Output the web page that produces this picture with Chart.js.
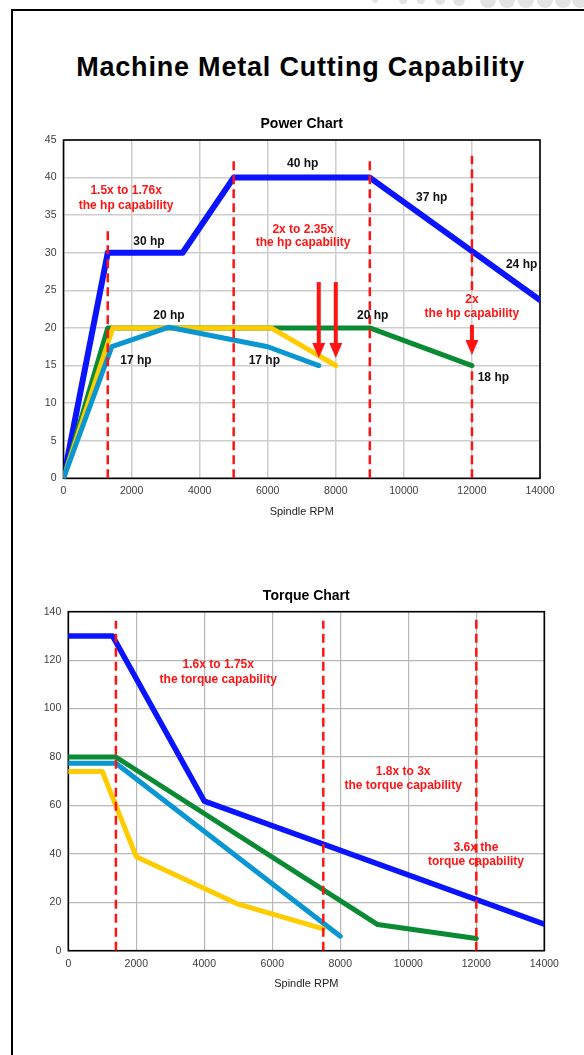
<!DOCTYPE html>
<html>
<head>
<meta charset="utf-8">
<script src="https://cdn.jsdelivr.net/npm/chart.js@4.4.1/dist/chart.umd.min.js"></script>
<style>
html,body{margin:0;padding:0;background:#fff;width:584px;height:1055px;overflow:hidden;position:relative;font-family:"Liberation Sans",Arial,sans-serif;}
#frameL{position:absolute;left:11px;top:9px;width:2px;height:1046px;background:#000;}
#frameT{position:absolute;left:11px;top:9px;width:573px;height:2px;background:#000;}
.dot{position:absolute;border-radius:50%;background:#e3e3e3;}
#title{position:absolute;left:0;top:51px;width:601px;text-align:center;font-weight:bold;font-size:27px;line-height:32px;letter-spacing:0.8px;color:#000;}
.cw{position:absolute;left:0;width:584px;height:430px;}
</style>
</head>
<body>
<div id="frameT"></div>
<div id="frameL"></div>
<div id="dots"></div>
<div id="title">Machine Metal Cutting Capability</div>
<div class="cw" style="top:100px"><canvas id="power" width="584" height="430"></canvas></div>
<div class="cw" style="top:570px"><canvas id="torque" width="584" height="430"></canvas></div>
<script>
// ---------- shared ----------
const rpmMin = 0, rpmMax = 14000, rpmStep = 2000;

// ---------- Power chart data (hp vs Spindle RPM) ----------
const powerBlueRpm   = [0, 1300, 3500, 5000, 9000, 14000];
const powerBlueHp    = [0, 30, 30, 40, 40, 23.7];
const powerGreenRpm  = [0, 1300, 9000, 12000];
const powerGreenHp   = [0, 20, 20, 15];
const powerYellowRpm = [0, 1450, 6100, 8000];
const powerYellowHp  = [0, 20, 20, 15];
const powerCyanRpm   = [0, 1420, 3100, 6000, 7500];
const powerCyanHp    = [0, 17.5, 20.1, 17.5, 15];
const powerDashRpm   = [1300, 5000, 9000, 12000, 12000];
const powerDashFrom  = [0, 0, 0, 0, 25];
const powerDashTo    = [32.9, 42.6, 42.6, 14.5, 42.9];
const powerArrowRpm  = [7500, 8000, 12000];
const powerArrowTop  = [26.1, 26.1, 20.4];
const powerArrowTip  = [16, 16, 16.4];
const powerLabelText = ['30 hp', '40 hp', '37 hp', '24 hp', '20 hp', '17 hp', '17 hp', '20 hp', '18 hp'];
const powerLabelRpm  = [2510, 7030, 10820, 13460, 3100, 2130, 5900, 9085, 12630];
const powerLabelHp   = [31.5, 41.8, 37.3, 28.4, 21.6, 15.6, 15.6, 21.6, 13.4];
const powerNoteText  = ['1.5x to 1.76x', 'the hp capability', '2x to 2.35x', 'the hp capability', '2x', 'the hp capability'];
const powerNoteRpm   = [1840, 1840, 7040, 7040, 12000, 12000];
const powerNoteHp    = [38.3, 36.3, 33.1, 31.3, 23.8, 21.85];

// ---------- Torque chart data ----------
const torqueBlueRpm   = [0, 1300, 4000, 14000];
const torqueBlueVal   = [130, 130, 61.8, 11];
const torqueGreenRpm  = [0, 1400, 9100, 12000];
const torqueGreenVal  = [80, 80, 10.8, 5];
const torqueCyanRpm   = [0, 1400, 8000];
const torqueCyanVal   = [77.4, 77.4, 6];
const torqueYellowRpm = [0, 1000, 2000, 5000, 7500];
const torqueYellowVal = [74, 74, 38.8, 19.2, 9];
const torqueDashRpm   = [1400, 7500, 12000];
const torqueDashFrom  = [0, 0, 0];
const torqueDashTo    = [136.3, 136.3, 137.5];
const torqueNoteText  = ['1.6x to 1.75x', 'the torque capability', '1.8x to 3x', 'the torque capability', '3.6x the', 'torque capability'];
const torqueNoteRpm   = [4410, 4410, 9850, 9850, 11990, 11990];
const torqueNoteVal   = [118.3, 112.1, 73.9, 68, 42.7, 36.8];

// ---------- colours ----------
const BLUE = '#0a14ff', GREEN = '#0a8a32', YELLOW = '#ffcc00', CYAN = '#0a96d0', RED = '#ff1414';
const FONT = '"Liberation Sans", Arial, sans-serif';

// decoration dots at the top right
[[375,3],[403,4],[421,4],[440,5],[459,6],[488,8],[507,8],[526,8],[545,8],[563,8],[580,8]].forEach(([cx,r])=>{
  const d=document.createElement('div'); d.className='dot';
  d.style.left=(cx-r)+'px'; d.style.top=(-r)+'px'; d.style.width=(2*r)+'px'; d.style.height=(2*r)+'px';
  document.getElementById('dots').appendChild(d);
});

function pts(xs, ys){ return xs.map((x,i)=>({x:x, y:ys[i]})); }

function curve(xs, ys, color, w){
  return {data: pts(xs, ys), borderColor: color, borderWidth: w, pointRadius: 0, fill: false,
          tension: 0, borderCapStyle: 'round', borderJoinStyle: 'round'};
}
function dashes(xs, from, to){
  return xs.map((x,i)=>({data: [{x:x,y:from[i]},{x:x,y:to[i]}], borderColor: RED, borderWidth: 2.5,
          borderDash: [9,5], pointRadius: 0, fill: false, borderCapStyle: 'butt'}));
}

function decorPlugin(cfg){
  return {
    id: 'decor',
    beforeDatasetsDraw(chart){
      const {ctx, chartArea:a} = chart;
      ctx.save();
      ctx.strokeStyle = '#000'; ctx.lineWidth = 1.6;
      ctx.strokeRect(a.left, a.top, a.right-a.left, a.bottom-a.top);
      ctx.restore();
    },
    afterDatasetsDraw(chart){
      const {ctx, chartArea:a, scales:{x, y}} = chart;
      ctx.save();
      ctx.textAlign = 'center'; ctx.textBaseline = 'middle';
      ctx.font = 'bold 14px ' + FONT; ctx.fillStyle = '#000';
      ctx.fillText(cfg.title, (a.left+a.right)/2, a.top - cfg.titleGap);
      // arrows
      (cfg.arrowX||[]).forEach((v,i)=>{
        const px = x.getPixelForValue(v);
        const top = y.getPixelForValue(cfg.arrowTop[i]);
        const tip = y.getPixelForValue(cfg.arrowTip[i]);
        const hh = 15, hw = 6.5;
        ctx.fillStyle = RED;
        ctx.fillRect(px-2, top, 4, tip-hh-top+1);
        ctx.beginPath();
        ctx.moveTo(px-hw, tip-hh); ctx.lineTo(px+hw, tip-hh); ctx.lineTo(px, tip); ctx.closePath();
        ctx.fill();
      });
      // black labels
      ctx.font = 'bold 12px ' + FONT; ctx.fillStyle = '#111';
      (cfg.labelText||[]).forEach((t,i)=>{
        ctx.fillText(t, x.getPixelForValue(cfg.labelX[i]), y.getPixelForValue(cfg.labelY[i]));
      });
      // red notes
      ctx.fillStyle = RED;
      (cfg.noteText||[]).forEach((t,i)=>{
        ctx.fillText(t, x.getPixelForValue(cfg.noteX[i]), y.getPixelForValue(cfg.noteY[i]));
      });
      ctx.restore();
    }
  };
}

function makeChart(id, datasets, yMax, yStep, gridColor, gridWidth, pad, plugin){
  return new Chart(document.getElementById(id), {
    type: 'line',
    data: {datasets: datasets},
    options: {
      responsive: false, animation: false,
      layout: {padding: pad},
      plugins: {legend: {display: false}, tooltip: {enabled: false}, title: {display: false}},
      scales: {
        x: {
          type: 'linear', min: rpmMin, max: rpmMax,
          ticks: {stepSize: rpmStep, padding: 7, color: '#3c3c3c', font: {family: FONT, size: 10.5},
                  maxRotation: 0, autoSkip: false, callback: v => String(v)},
          grid: {color: gridColor, lineWidth: gridWidth, drawTicks: false},
          border: {display: false},
          title: {display: true, text: 'Spindle RPM', color: '#222', font: {family: FONT, size: 11}, padding: 0},
          afterFit(s){ s.height = 40; }
        },
        y: {
          type: 'linear', min: 0, max: yMax,
          ticks: {stepSize: yStep, padding: 7, color: '#3c3c3c', font: {family: FONT, size: 10.5}, callback: v => String(v)},
          grid: {color: gridColor, lineWidth: gridWidth, drawTicks: false},
          border: {display: false},
          afterFit(s){ s.width = 40; }
        }
      }
    },
    plugins: [plugin]
  });
}

// Power chart
makeChart('power',
  [].concat(
    dashes(powerDashRpm, powerDashFrom, powerDashTo),
    [curve(powerCyanRpm, powerCyanHp, CYAN, 5),
     curve(powerYellowRpm, powerYellowHp, YELLOW, 5),
     curve(powerGreenRpm, powerGreenHp, GREEN, 5),
     curve(powerBlueRpm, powerBlueHp, BLUE, 6)]
  ),
  45, 5, '#cdcdcd', 1.5,
  {left: 23.5, right: 44, top: 40, bottom: 11.7},
  decorPlugin({title: 'Power Chart', titleGap: 16,
    arrowX: powerArrowRpm, arrowTop: powerArrowTop, arrowTip: powerArrowTip,
    labelText: powerLabelText, labelX: powerLabelRpm, labelY: powerLabelHp,
    noteText: powerNoteText, noteX: powerNoteRpm, noteY: powerNoteHp})
);

// Torque chart
makeChart('torque',
  [].concat(
    dashes(torqueDashRpm, torqueDashFrom, torqueDashTo),
    [curve(torqueYellowRpm, torqueYellowVal, YELLOW, 5),
     curve(torqueCyanRpm, torqueCyanVal, CYAN, 5),
     curve(torqueGreenRpm, torqueGreenVal, GREEN, 5),
     curve(torqueBlueRpm, torqueBlueVal, BLUE, 5.5)]
  ),
  140, 20, '#b8b8b8', 1.2,
  {left: 28.3, right: 39.7, top: 41.7, bottom: 9.3},
  decorPlugin({title: 'Torque Chart', titleGap: 15.7,
    noteText: torqueNoteText, noteX: torqueNoteRpm, noteY: torqueNoteVal})
);
</script>
</body>
</html>
